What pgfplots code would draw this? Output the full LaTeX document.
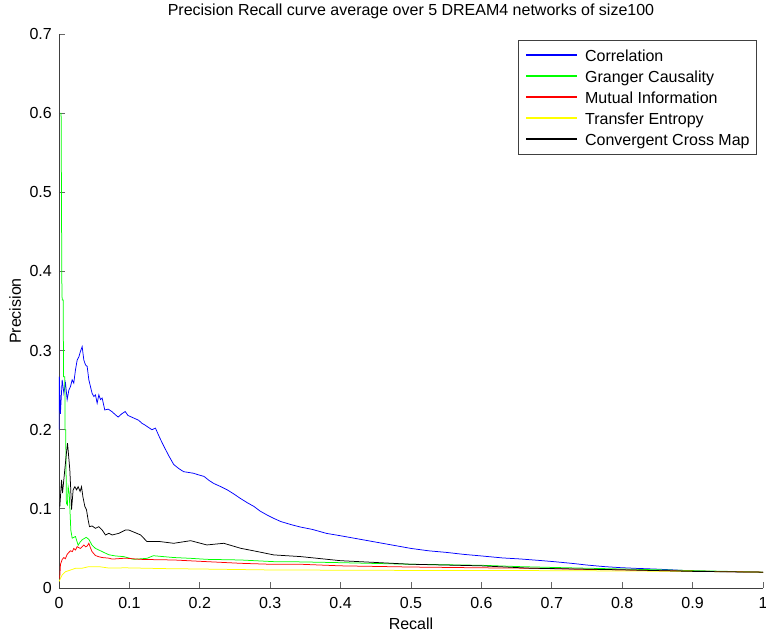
\documentclass[border=0pt]{standalone}
\usepackage{pgfplots}
\pgfplotsset{compat=1.18}
\usepackage{fontspec}
\setmainfont{Liberation Sans}
\newcommand{\fsz}{\fontsize{16bp}{19bp}\selectfont}
\definecolor{mblue}{rgb}{0,0,1}
\definecolor{mgreen}{rgb}{0,1,0}
\definecolor{mred}{rgb}{1,0,0}
\definecolor{myellow}{rgb}{1,1,0}
\begin{document}
\begin{tikzpicture}
\useasboundingbox (-59bp,-45bp) rectangle (707bp,588bp);
\begin{axis}[
  at={(0,0)}, anchor=south west,
  width=704bp, height=554bp, scale only axis,
  xmin=0, xmax=1, ymin=0, ymax=0.7,
  axis lines=left,
  axis line style={-, draw=black!75, line width=0.8bp},
  tick align=inside, major tick length=6bp,
  tick style={draw=black!60, line width=0.8bp},
  xtick={0,0.1,0.2,0.3,0.4,0.5,0.6,0.7,0.8,0.9,1},
  xticklabels={0,0.1,0.2,0.3,0.4,0.5,0.6,0.7,0.8,0.9,1},
  ytick={0,0.1,0.2,0.3,0.4,0.5,0.6,0.7},
  yticklabels={0,0.1,0.2,0.3,0.4,0.5,0.6,0.7},
  tick label style={font=\fsz, inner sep=0pt},
  xticklabel style={anchor=north, yshift=-9bp},
  yticklabel style={anchor=east, xshift=-7bp},
  every axis title shift=0pt,
  title={Precision Recall curve average over 5 DREAM4 networks of size100},
  title style={font=\fsz, at={(axis description cs:0.5,1.0334)}, anchor=base, inner sep=0pt},
  xlabel={Recall},
  xlabel style={font=\fsz, at={(axis description cs:0.5,-0.0749)}, anchor=base, inner sep=0pt},
  ylabel={Precision},
  ylabel style={font=\fsz, at={(axis description cs:-0.054,0.5)}, anchor=base, inner sep=0pt, rotate=0},
  legend cell align=left,
  legend style={font=\fsz, at={(axis description cs:0.9915,0.9892)}, anchor=north east,
    draw=black!75, line width=0.8bp, fill=white,
    inner xsep=7bp, inner ysep=6.5bp, row sep=4bp, column sep=7bp,
    nodes={inner xsep=0bp, inner ysep=0bp, text height=15bp, text depth=2bp}},
  legend image code/.code={\draw[#1, line width=2bp] (0bp,0bp) -- (51bp,0bp);},
  every axis plot/.append style={line width=0.75bp},
]
% Correlation
\addplot[draw=mblue] coordinates {
(0,0.2)(0.0005,0.267)(0.002,0.22)(0.0045,0.263)(0.0069,0.246)(0.0092,0.259)(0.0116,0.238)
(0.014,0.250)(0.0163,0.2545)(0.0187,0.263)(0.021,0.259)(0.0234,0.2756)(0.0258,0.288)
(0.0282,0.292)(0.0305,0.299)(0.0329,0.305)(0.0353,0.288)(0.0376,0.282)(0.04,0.280)
(0.0424,0.263)(0.0447,0.2545)(0.047,0.246)(0.0495,0.242)(0.0518,0.244)(0.0542,0.2335)
(0.0566,0.244)(0.059,0.238)(0.0613,0.240)(0.065,0.225)(0.07,0.226)(0.075,0.223)
(0.08,0.219)(0.084,0.216)(0.089,0.220)(0.094,0.223)(0.098,0.218)(0.103,0.216)
(0.108,0.214)(0.113,0.212)(0.118,0.208)(0.122,0.206)(0.127,0.203)(0.132,0.2)
(0.137,0.202)(0.143,0.19)(0.149,0.179)(0.156,0.167)(0.163,0.156)(0.17,0.151)
(0.177,0.147)(0.184,0.146)(0.191,0.145)(0.198,0.143)(0.206,0.141)(0.213,0.136)
(0.22,0.132)(0.23,0.128)(0.239,0.124)(0.248,0.119)(0.258,0.113)(0.267,0.108)
(0.277,0.103)(0.286,0.097)(0.296,0.092)(0.305,0.088)(0.315,0.084)(0.33,0.080)
(0.343,0.077)(0.36,0.074)(0.38,0.069)(0.40,0.066)(0.425,0.062)(0.45,0.058)
(0.475,0.054)(0.5,0.050)(0.525,0.047)(0.55,0.045)(0.575,0.0425)(0.6,0.0405)
(0.63,0.038)(0.655,0.0367)(0.68,0.035)(0.703,0.0333)(0.73,0.031)(0.75,0.029)
(0.775,0.027)(0.798,0.0257)(0.82,0.0248)(0.845,0.024)(0.87,0.023)(0.893,0.0219)
(0.92,0.021)(0.95,0.0205)(0.975,0.0202)(1,0.02)
};
\addlegendentry{Correlation}
% Granger Causality
\addplot[draw=mgreen] coordinates {
(0.002,0.6)(0.003,0.6)(0.0035,0.5)(0.004,0.389)(0.0045,0.364)(0.006,0.364)(0.0064,0.267)
(0.0083,0.267)(0.0085,0.2)(0.0095,0.2)(0.0105,0.107)(0.012,0.105)(0.013,0.128)
(0.0145,0.12)(0.0168,0.073)(0.0187,0.063)(0.021,0.064)(0.0234,0.065)(0.0272,0.054)
(0.030,0.058)(0.033,0.061)(0.0386,0.064)(0.0424,0.0615)(0.047,0.054)(0.0518,0.050)
(0.0566,0.048)(0.0613,0.046)(0.0708,0.042)(0.0802,0.0405)(0.0923,0.0396)(0.106,0.0362)
(0.125,0.0375)(0.134,0.0408)(0.149,0.0396)(0.163,0.0385)(0.187,0.0375)(0.21,0.0362)
(0.258,0.0354)(0.305,0.0333)(0.343,0.033)(0.4,0.032)(0.5,0.030)(0.6,0.0287)
(0.655,0.027)(0.7,0.026)(0.8,0.024)(0.9,0.022)(1,0.02)
};
\addlegendentry{Granger Causality}
% Mutual Information
\addplot[draw=mred] coordinates {
(0.001,0.012)(0.0021,0.030)(0.0045,0.036)(0.0069,0.0385)(0.009,0.037)(0.0116,0.0425)
(0.014,0.045)(0.0163,0.047)(0.019,0.046)(0.021,0.050)(0.0235,0.048)(0.0258,0.0523)
(0.028,0.051)(0.0305,0.050)(0.0353,0.0544)(0.038,0.052)(0.04,0.053)(0.0424,0.0565)
(0.045,0.050)(0.047,0.0459)(0.0518,0.041)(0.0566,0.0395)(0.0613,0.0385)(0.0708,0.0377)
(0.0755,0.0365)(0.0944,0.0377)(0.1039,0.037)(0.116,0.0362)(0.137,0.0358)(0.163,0.0354)
(0.21,0.0333)(0.258,0.0312)(0.3,0.030)(0.343,0.030)(0.4,0.028)(0.5,0.0265)
(0.6,0.0255)(0.67,0.025)(0.75,0.0235)(0.85,0.022)(1,0.02)
};
\addlegendentry{Mutual Information}
% Transfer Entropy
\addplot[draw=myellow] coordinates {
(0,0.008)(0.0021,0.0122)(0.0045,0.0164)(0.0092,0.0206)(0.0163,0.0227)(0.0234,0.0249)
(0.0329,0.025)(0.0424,0.027)(0.0566,0.027)(0.0708,0.0252)(0.0944,0.0255)(0.15,0.0245)
(0.2,0.024)(0.3,0.0228)(0.4,0.0225)(0.5,0.0222)(0.67,0.022)(0.8,0.0215)(0.9,0.021)(1,0.02)
};
\addlegendentry{Transfer Entropy}
% Convergent Cross Map
\addplot[draw=black] coordinates {
(0.0012,0.103)(0.0036,0.1365)(0.005,0.12)(0.0083,0.15)(0.0105,0.17)(0.0121,0.183)
(0.013,0.174)(0.0154,0.149)(0.0165,0.128)(0.0178,0.099)(0.0201,0.124)(0.0225,0.128)
(0.025,0.124)(0.0272,0.128)(0.03,0.122)(0.032,0.128)(0.034,0.115)(0.0367,0.103)
(0.039,0.099)(0.0414,0.086)(0.0433,0.0775)(0.047,0.0784)(0.0518,0.0754)(0.0566,0.0775)
(0.0613,0.0733)(0.066,0.067)(0.0708,0.0691)(0.0755,0.067)(0.085,0.0691)(0.0944,0.0733)
(0.099,0.0733)(0.108,0.070)(0.116,0.067)(0.125,0.0586)(0.144,0.0586)(0.163,0.0565)
(0.187,0.0598)(0.21,0.0544)(0.234,0.0565)(0.258,0.0502)(0.282,0.046)(0.305,0.0418)
(0.343,0.0397)(0.4,0.0345)(0.5,0.030)(0.6,0.028)(0.67,0.025)(0.8,0.023)(0.9,0.021)(1,0.02)
};
\addlegendentry{Convergent Cross Map}
\end{axis}
\end{tikzpicture}
\end{document}
